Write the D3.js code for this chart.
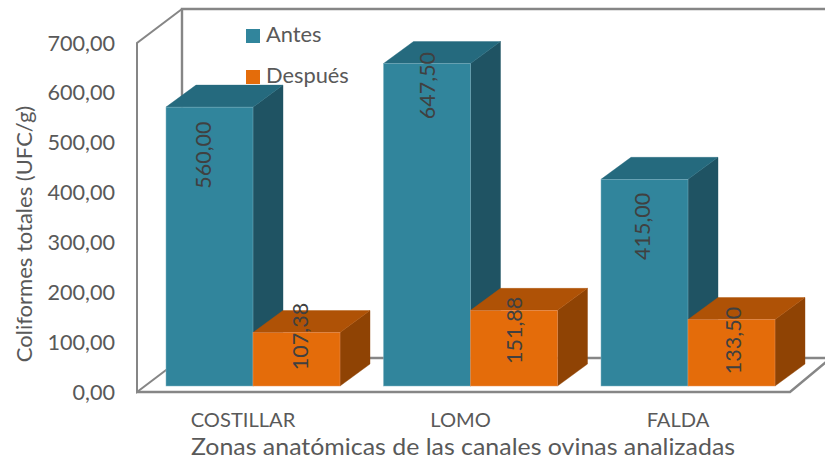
<!DOCTYPE html>
<html><head><meta charset="utf-8">
<script src="https://cdn.jsdelivr.net/npm/d3@7"></script>
<style>html,body{margin:0;padding:0;background:#fff}svg{display:block}text{font-family:Lato,Carlito,sans-serif}</style>
</head><body><div id="c"></div>
<script>
const categories = ["COSTILLAR","LOMO","FALDA"];
const seriesNames = ["Antes","Después"];
const antes = [560.00,647.50,415.00];
const despues = [107.38,151.88,133.50];
const valueLabels = [["560,00","647,50","415,00"],["107,38","151,88","133,50"]];
const yTicks = [0,100,200,300,400,500,600,700];
const xTitle = "Zonas anatómicas de las canales ovinas analizadas";
const yTitle = "Coliformes totales (UFC/g)";
const labelNudge = [[[-7,48],[0,22],[-3,47]],[[3,4],[0,20],[1,21]]];

const W=825,H=461;
const svg=d3.select("#c").append("svg").attr("width",W).attr("height",H);
const fmt=d=>d3.format(".2f")(d).replace(".",",");
const colors=[{front:"#31859C",top:"#256A7E",side:"#1F5363",edge:"#7FB2C2"},
              {front:"#E46C0A",top:"#AF5206",side:"#8F4304",edge:"#E9925A"}];
const x0=d3.scaleBand().domain(categories).range([144.25,796.75]).paddingInner(0.2).paddingOuter(0.1);
const x1=d3.scaleBand().domain([0,1]).range([0,x0.bandwidth()]);
const yAxis=d3.scaleLinear().domain([0,700]).range([392,43]);
const yBar=d3.scaleLinear().domain([0,700]).range([386,37.4]);
const dx=30,dy=-22;
const hText=(px,py,sx,size,txt,anchor)=>svg.append("text")
  .attr("transform",`translate(${px},${py}) scale(${sx},1)`)
  .attr("text-anchor",anchor).attr("font-size",size).attr("fill","#595959").text(txt);

// walls and floor
const wall="#868686";
const wg=svg.append("g").attr("fill","none").attr("stroke",wall).attr("stroke-width",2.4);
wg.append("path").attr("d","M825,9H182V358H825");
wg.append("path").attr("stroke-width",2).attr("d","M182,9L137,43V392L182,358");
wg.append("path").attr("d","M137,392H790L826,362");

// y axis labels
yTicks.forEach(t=>hText(115,yAxis(t)+7.5,1.03,21,fmt(t),"end"));

// legend
seriesNames.forEach((s,i)=>{
  const yy=[29,70][i];
  svg.append("rect").attr("x",246).attr("y",yy).attr("width",14).attr("height",14).attr("fill",colors[i].front);
  hText(266,yy+13,1.04,21,s,"start");
});

// bars
const series=[antes,despues];
const draw=(ci,si)=>{
  const v=series[si][ci],c=colors[si];
  const L=x0(categories[ci])+x1(si),R=L+x1.bandwidth(),T=yBar(v),B=yBar(0);
  const g=svg.append("g");
  g.append("path").attr("fill",c.side).attr("stroke",c.side).attr("stroke-width",.4)
   .attr("d",`M${R},${T}l${dx},${dy}V${B+dy}L${R},${B}Z`);
  g.append("path").attr("fill",c.top).attr("stroke",c.top).attr("stroke-width",.4)
   .attr("d",`M${L},${T}l${dx},${dy}H${R+dx}L${R},${T}Z`);
  g.append("rect").attr("x",L).attr("y",T).attr("width",R-L).attr("height",B-T)
   .attr("fill",c.front).attr("stroke",c.edge).attr("stroke-width",.5);
};
categories.forEach((_,ci)=>{draw(ci,0);draw(ci,1);});
categories.forEach((_,ci)=>[0,1].forEach(si=>{
  const v=series[si][ci];
  const cx=x0(categories[ci])+x1(si)+x1.bandwidth()/2+labelNudge[si][ci][0];
  const cy=yBar(v)+labelNudge[si][ci][1];
  svg.append("text").attr("transform",`translate(${cx},${cy}) rotate(-90)`)
    .attr("text-anchor","middle").attr("dominant-baseline","central")
    .attr("font-size",21.5).attr("fill","#404040").text(valueLabels[si][ci]);
}));

// category labels
categories.forEach(c=>hText(x0(c)+x0.bandwidth()/2-10,427,1.06,19,c,"middle"));
hText(463,455,1.083,23,xTitle,"middle");
svg.append("text").attr("transform","translate(32,234) rotate(-90)").attr("text-anchor","middle")
  .attr("font-size",22).attr("fill","#595959").text(yTitle);
</script></body></html>
